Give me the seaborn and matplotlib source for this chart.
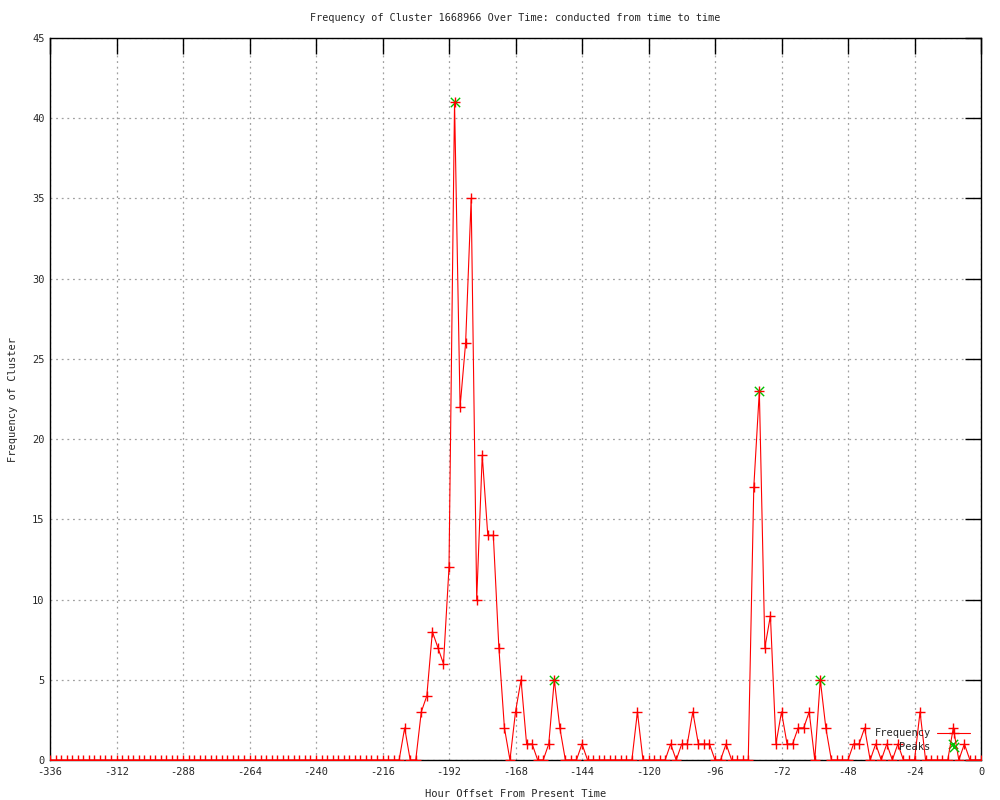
import matplotlib
matplotlib.use("Agg")
import matplotlib.pyplot as plt
import seaborn as sns
import pandas as pd

# hourly offsets, sampled every 2 hours
hours = list(range(-336, 1, 2))
freq = [
    0, 0, 0, 0, 0, 0, 0, 0, 0, 0, 0, 0, 0, 0, 0, 0,
    0, 0, 0, 0, 0, 0, 0, 0, 0, 0, 0, 0, 0, 0, 0, 0,
    0, 0, 0, 0, 0, 0, 0, 0, 0, 0, 0, 0, 0, 0, 0, 0,
    0, 0, 0, 0, 0, 0, 0, 0, 0, 0, 0, 0, 0, 0, 0, 0,
    2, 0, 0, 3, 4, 8, 7, 6, 12, 41, 22, 26, 35, 10, 19, 14,
    14, 7, 2, 0, 3, 5, 1, 1, 0, 0, 1, 5, 2, 0, 0, 0,
    1, 0, 0, 0, 0, 0, 0, 0, 0, 0, 3, 0, 0, 0, 0, 0,
    1, 0, 1, 1, 3, 1, 1, 1, 0, 0, 1, 0, 0, 0, 0, 17,
    23, 7, 9, 1, 3, 1, 1, 2, 2, 3, 0, 5, 2, 0, 0, 0,
    0, 1, 1, 2, 0, 1, 0, 1, 0, 1, 0, 0, 0, 3, 0, 0,
    0, 0, 0, 2, 0, 1, 0, 0, 0,
]
peak_hours = [-190, -154, -80, -58, -10]
peak_vals = [41, 5, 23, 5, 1]

x_ticks = list(range(-336, 1, 24))
y_ticks = list(range(0, 46, 5))

df = pd.DataFrame({"hour": hours, "freq": freq})
peaks = pd.DataFrame({"hour": peak_hours, "freq": peak_vals})

sns.set_theme(style="white")
plt.rcParams["font.family"] = ["DejaVu Sans Mono"]

fig = plt.figure(figsize=(10, 8), dpi=100)
ax = fig.add_axes([0.05, 0.05, 0.931, 0.9025])

sns.scatterplot(x="hour", y="freq", data=peaks, ax=ax, marker="x", color="#00c000",
                s=45, linewidth=1.0, label="Peaks", zorder=2)
sns.lineplot(x="hour", y="freq", data=df, ax=ax, color="red", linewidth=0.8,
             marker="+", markersize=7.5, markeredgewidth=1.0, markeredgecolor="red",
             label="Frequency", zorder=3)

ax.set_xlim(-336, 0)
ax.set_ylim(0, 45)
ax.set_xticks(x_ticks)
ax.set_yticks(y_ticks)
ax.set_xticklabels([str(t) for t in x_ticks])
ax.grid(True, color="#a0a0a0", linestyle=(0, (1.5, 3)), linewidth=0.9)
ax.set_axisbelow(True)

for s in ax.spines.values():
    s.set_color("black")
    s.set_linewidth(1.0)
ax.tick_params(direction="in", length=11.5, width=1, color="black",
               top=True, right=True, labelsize=7.5, pad=4)
ax.tick_params(axis="x", pad=5)

ax.set_title("Frequency of Cluster 1668966 Over Time: conducted from time to time",
             fontsize=7.3, pad=12)
ax.set_xlabel("Hour Offset From Present Time", fontsize=7.5, labelpad=9)
ax.set_ylabel("Frequency of Cluster", fontsize=7.5, labelpad=10)

handles, labels = ax.get_legend_handles_labels()
order = [labels.index("Frequency"), labels.index("Peaks")]
ax.legend([handles[i] for i in order], [labels[i] for i in order],
          loc="lower right", bbox_to_anchor=(0.993, 0.006), frameon=False,
          markerfirst=False, fontsize=7.5, handlelength=3.2, handletextpad=0.6,
          labelspacing=0.3, borderaxespad=0.2, borderpad=0.2)

fig.savefig("out.png", dpi=100)
